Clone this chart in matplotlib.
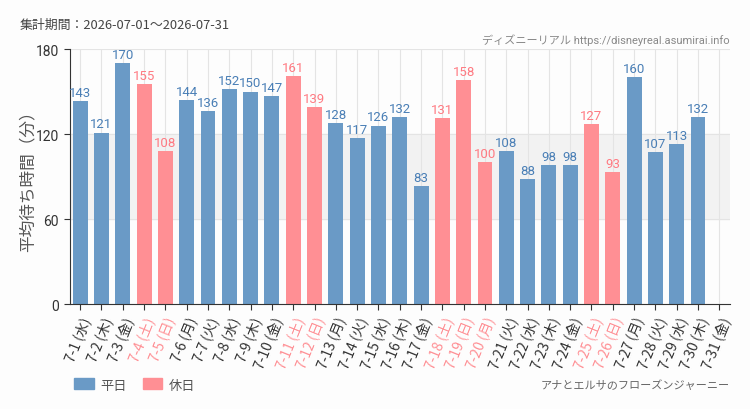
import matplotlib
matplotlib.use("Agg")
import matplotlib.pyplot as plt
from matplotlib.patches import Patch
import numpy as np

plt.rcParams['font.family'] = ['Noto Sans CJK JP', 'DejaVu Sans']

dates = [f"7-{d}" for d in range(1, 32)]
weekdays = ["水","木","金","土","日","月","火","水","木","金","土","日","月","火","水","木","金",
            "土","日","月","火","水","木","金","土","日","月","火","水","木","金"]
values = [143,121,170,155,108,144,136,152,150,147,161,139,128,117,126,132,83,131,158,100,
          108,88,98,98,127,93,160,107,113,132,None]
holidays = ["7-4","7-5","7-11","7-12","7-18","7-19","7-20","7-25","7-26"]
yticks = [0, 60, 120, 180]

blue = "#6a9ac6"
pink = "#ff8f94"
blue_txt = "#4a7fb6"
pink_txt = "#ff7a82"

fig = plt.figure(figsize=(7.5, 4.1), dpi=100)
fig.patch.set_facecolor("#fdfdfd")
ax = fig.add_axes([0.0927, 0.256, 0.8806, 0.622])
ax.set_facecolor("#fdfdfd")

x = np.arange(len(dates))
ax.axhspan(60, 120, color="#f2f2f2", zorder=0)
for xi in x:
    ax.axvline(xi, color="#e4e4e4", lw=0.8, zorder=0.5)
for yv in [60, 120, 180]:
    ax.axhline(yv, color="#e4e4e4", lw=0.8, zorder=0.5)

cond = ['Roboto', 'Noto Sans CJK JP', 'DejaVu Sans']
for xi, d, v in zip(x, dates, values):
    if v is None:
        continue
    hol = d in holidays
    ax.bar(xi, v, width=0.7, color=pink if hol else blue, zorder=2)
    ax.text(xi, v + 1.5, str(v), ha="center", va="bottom", fontsize=9.5,
            color=pink_txt if hol else blue_txt, family=cond, zorder=3)

ax.set_xlim(-0.5, len(dates) - 0.5)
ax.set_ylim(0, 180)
ax.set_yticks(yticks)
ax.set_yticklabels([str(t) for t in yticks], fontsize=10, color="#333333", family=cond)
ax.set_xticks(x)
labels = [f"{d} ({w})" for d, w in zip(dates, weekdays)]
ax.set_xticklabels(labels, rotation=68, ha="right", rotation_mode="anchor", fontsize=10)
for lbl, d in zip(ax.get_xticklabels(), dates):
    lbl.set_color(pink if d in holidays else "#333333")
ax.tick_params(axis="both", direction="out", length=4, color="#333333")
for s in ["top", "right"]:
    ax.spines[s].set_visible(False)
for s in ["left", "bottom"]:
    ax.spines[s].set_color("#333333")
ax.set_ylabel("平均待ち時間（分）", fontsize=12, color="#555555")
ax.yaxis.set_label_coords(-0.05, 0.5)

fig.text(20/750, 1 - 25/410, "集計期間：2026-07-01～2026-07-31", fontsize=9.3, color="#444444", va="center")
fig.text(730/750, 1 - 40/410, "ディズニーリアル https://disneyreal.asumirai.info", fontsize=8,
         color="#888888", ha="right", va="center", family=cond)
fig.text(730/750, 1 - 386/410, "アナとエルサのフローズンジャーニー", fontsize=8,
         color="#666666", ha="right", va="center")

handles = [Patch(color=blue, label="平日"), Patch(color=pink, label="休日")]
fig.legend(handles=handles, loc="center left", bbox_to_anchor=(62/750, 1 - 386/410), ncol=2,
           frameon=False, fontsize=9.5, handlelength=1.5, handleheight=0.9, handletextpad=0.5,
           columnspacing=1.2, labelcolor="#555555")

fig.savefig("out.png", dpi=100, facecolor=fig.get_facecolor())
